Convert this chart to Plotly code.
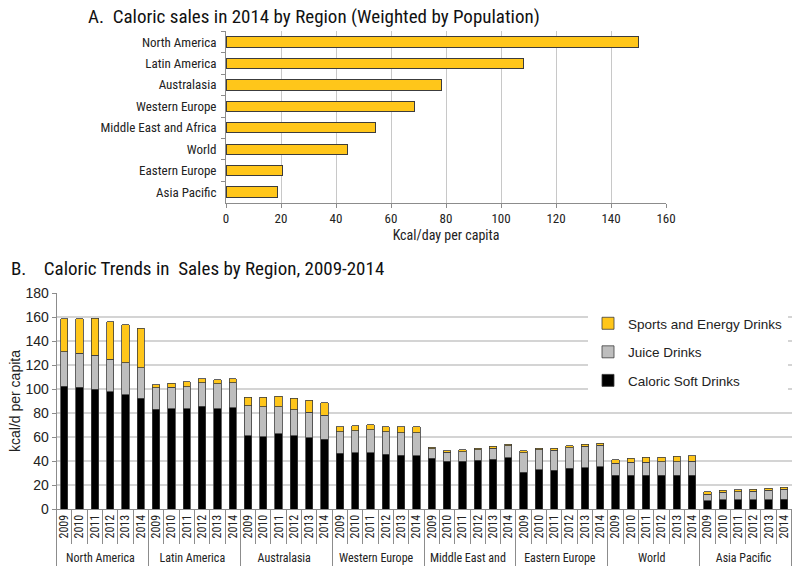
import plotly.graph_objects as go

# ---------- Panel A data ----------
regions_a = ["North America", "Latin America", "Australasia", "Western Europe",
             "Middle East and Africa", "World", "Eastern Europe", "Asia Pacific"]
kcal_2014 = [150.1, 108.2, 78.5, 68.4, 54.2, 44.3, 20.4, 18.7]

# ---------- Panel B data ----------
regions_b = ["North America", "Latin America", "Australasia", "Western Europe",
             "Middle East and", "Eastern Europe", "World", "Asia Pacific"]
years = ["2009", "2010", "2011", "2012", "2013", "2014"]

soft_drinks = [
    [102.4, 101.3, 99.9, 97.7, 95.2, 92.4],
    [83.0, 83.6, 83.6, 85.8, 83.6, 84.4],
    [60.9, 60.1, 62.6, 60.9, 59.5, 58.2],
    [46.3, 46.8, 46.8, 45.7, 44.9, 44.3],
    [42.4, 39.7, 39.7, 40.5, 41.6, 42.7],
    [30.8, 32.7, 32.4, 33.8, 34.3, 35.1],
    [28.1, 28.1, 28.1, 28.1, 28.1, 28.1],
    [6.9, 7.8, 7.8, 7.8, 7.8, 8.3],
]
juice_drinks = [
    [28.7, 28.5, 28.2, 27.3, 26.5, 25.5],
    [18.0, 18.0, 18.2, 19.4, 20.7, 20.8],
    [25.2, 25.1, 22.6, 21.9, 21.3, 20.1],
    [18.2, 18.5, 19.4, 18.8, 18.5, 19.1],
    [7.9, 7.6, 7.9, 8.7, 9.2, 10.0],
    [16.0, 16.5, 16.5, 17.3, 17.9, 17.9],
    [10.0, 10.8, 10.8, 11.1, 11.4, 11.6],
    [5.6, 6.1, 6.6, 7.2, 7.7, 8.0],
]
sports_drinks = [
    [27.3, 28.6, 30.9, 31.2, 32.0, 32.8],
    [2.5, 3.0, 4.2, 3.3, 3.3, 3.5],
    [7.2, 8.1, 8.6, 9.4, 10.0, 10.3],
    [3.9, 4.2, 4.1, 4.2, 5.3, 5.0],
    [1.1, 1.3, 1.6, 1.3, 1.4, 1.3],
    [1.6, 1.6, 1.9, 1.6, 1.8, 1.9],
    [3.0, 3.3, 4.1, 4.0, 4.3, 4.6],
    [1.9, 1.6, 1.6, 1.6, 1.7, 2.0],
]

YELLOW = "#FFC61A"
GRAY = "#BEBEBE"
BLACK = "#000000"
OUTLINE = "#3C3C3C"
NARROW = "Liberation Sans Narrow, Arial Narrow, Roboto Condensed, sans-serif"
ARIAL = "Liberation Sans, Arial, sans-serif"

W, H = 800, 572


def fx(px):
    return px / W


def fy(py):
    return 1 - py / H


x_outer = [r for r in regions_b for _ in years]
x_inner = [y for _ in regions_b for y in years]


def flat(m):
    return [v for row in m for v in row]


fig = go.Figure()

# Panel A
fig.add_trace(go.Bar(
    x=kcal_2014, y=regions_a, orientation="h",
    marker=dict(color=YELLOW, line=dict(color=OUTLINE, width=1)),
    xaxis="x2", yaxis="y2", showlegend=False,
))

# Panel B
for name, data, col, rank in [("Caloric Soft Drinks", soft_drinks, BLACK, 3),
                              ("Juice Drinks", juice_drinks, GRAY, 2),
                              ("Sports and Energy Drinks", sports_drinks, YELLOW, 1)]:
    fig.add_trace(go.Bar(
        x=[x_outer, x_inner], y=flat(data), name=name,
        marker=dict(color=col, line=dict(color=OUTLINE, width=0.8)),
        xaxis="x", yaxis="y", legendrank=rank, legendgroup=name,
    ))

fig.update_layout(
    width=W, height=H,
    margin=dict(l=0, r=0, t=0, b=0),
    paper_bgcolor="white", plot_bgcolor="white",
    barmode="stack", bargap=0.52,
    font=dict(family=ARIAL, size=13, color="#222"),
    xaxis=dict(
        domain=[fx(56.6), fx(791.6)], anchor="y", automargin=False,
        type="multicategory",
        showline=True, linecolor="#8C8C8C", linewidth=1,
        ticks="outside", tickson="boundaries", ticklen=34, tickcolor="#8C8C8C",
        tickangle=-90, tickfont=dict(family=NARROW, size=12, color="#222"),
        showdividers=True, dividercolor="#8C8C8C", dividerwidth=1,
        showgrid=False,
    ),
    yaxis=dict(
        domain=[fy(509), fy(293)], anchor="x", automargin=False,
        range=[0, 180], dtick=20,
        showgrid=True, gridcolor="#D4D4D4", gridwidth=1.5,
        showline=True, linecolor="#8C8C8C",
        ticks="outside", ticklen=4, tickcolor="#8C8C8C",
        tickfont=dict(family=ARIAL, size=14, color="#222"),
        title=dict(text="kcal/d per capita", font=dict(family=ARIAL, size=14), standoff=1),
        zeroline=False,
    ),
    xaxis2=dict(
        domain=[fx(226), fx(666)], anchor="y2", automargin=False,
        range=[0, 160], dtick=20,
        showgrid=True, gridcolor="#C8C8C8", gridwidth=1,
        showline=True, linecolor="#8C8C8C",
        ticks="outside", ticklen=4, tickcolor="#8C8C8C",
        tickfont=dict(family=NARROW, size=13, color="#222"),
        title=dict(text="Kcal/day per capita", font=dict(family=NARROW, size=14), standoff=4),
        zeroline=False,
    ),
    yaxis2=dict(
        domain=[fy(202.7), fy(31.3)], anchor="x2", automargin=False,
        autorange="reversed",
        showline=True, linecolor="#8C8C8C",
        ticks="outside", tickson="boundaries", ticklen=4, tickcolor="#8C8C8C",
        tickfont=dict(family=NARROW, size=13, color="#222"),
        ticksuffix="  ",
    ),
    legend=dict(
        x=fx(588), y=fy(308), xanchor="left", yanchor="top",
        traceorder="grouped", tracegroupgap=8,
        bgcolor="white", font=dict(family=ARIAL, size=13.5, color="#222"),
        itemwidth=30,
    ),
    annotations=[
        dict(text="A.  Caloric sales in 2014 by Region (Weighted by Population)",
             x=fx(86), y=fy(17), xref="paper", yref="paper",
             xanchor="left", yanchor="middle", showarrow=False,
             font=dict(family=NARROW, size=19, color="#111")),
        dict(text="B.\u00a0\u00a0\u00a0\u00a0Caloric Trends in\u00a0\u00a0Sales by Region, 2009-2014",
             x=fx(9), y=fy(268), xref="paper", yref="paper",
             xanchor="left", yanchor="middle", showarrow=False,
             font=dict(family=NARROW, size=19, color="#111")),
    ],
)

# remove the page's default 8px body margin so the figure fills the window
fig.write_html("out.html", config={"displayModeBar": False},
               post_script="document.body.style.margin='0px';")
